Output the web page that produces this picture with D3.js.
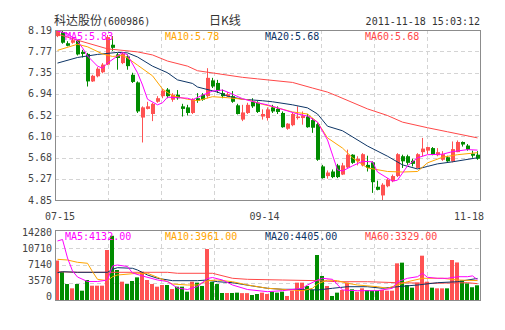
<!DOCTYPE html>
<html>
<head>
<meta charset="utf-8">
<script src="https://cdn.jsdelivr.net/npm/d3@7"></script>
<style>
  body { margin: 0; background: #fff; }
  svg { display: block; }
  text { font-family: "DejaVu Sans Mono", "Liberation Mono", monospace; font-size: 10px; }
</style>
</head>
<body>
<svg id="chart" width="505" height="330"></svg>
<script>
// Trading days, 2011-07-15 .. 2011-11-18
const dates = [
  "07-15","07-18","07-19","07-20","07-21","07-22","07-25","07-26","07-27","07-28","07-29",
  "08-01","08-02","08-03","08-04","08-05","08-08","08-09","08-10","08-11","08-12",
  "08-15","08-16","08-17","08-18","08-19","08-22","08-23","08-24","08-25","08-26",
  "08-29","08-30","08-31",
  "09-01","09-02","09-05","09-06","09-07","09-08","09-09","09-13","09-14","09-15","09-16",
  "09-19","09-20","09-21","09-22","09-23","09-26","09-27","09-28","09-29","09-30",
  "10-10","10-11","10-12","10-13","10-14","10-17","10-18","10-19","10-20","10-21",
  "10-24","10-25","10-26","10-27","10-28","10-31",
  "11-01","11-02","11-03","11-04","11-07","11-08","11-09","11-10","11-11",
  "11-14","11-15","11-16","11-17","11-18"
];

const open  = [8.07,8.15,7.93,7.94,7.98,7.76,7.72,7.18,7.28,7.36,7.51,7.90,7.71,7.54,7.67,7.31,7.16,6.47,6.64,6.54,
               6.78,6.89,7.02,6.82,6.92,6.69,6.67,6.56,6.85,6.92,6.89,7.20,7.15,6.95,6.89,6.89,6.71,6.43,6.56,6.78,
               6.76,6.49,6.46,6.67,6.64,6.56,6.25,6.32,6.46,6.46,6.49,6.42,6.34,5.51,5.32,5.41,5.53,5.35,5.49,5.74,
               5.61,5.53,5.54,5.59,5.11,4.94,5.12,5.22,5.32,5.71,5.71,5.62,5.48,5.79,5.82,5.87,5.73,5.64,5.69,5.61,
               5.79,5.99,5.92,5.76,5.74];
const high  = [8.19,8.17,7.97,8.02,8.00,7.80,7.74,7.31,7.46,7.54,8.09,8.07,7.74,7.76,7.71,7.35,7.18,6.69,6.78,6.76,
               6.89,7.03,7.05,6.95,7.01,6.74,6.72,6.85,6.95,6.95,7.44,7.25,7.21,7.02,6.97,6.99,6.74,6.72,6.76,6.85,
               6.79,6.63,6.67,6.72,6.69,6.59,6.36,6.56,6.69,6.59,6.54,6.46,6.38,5.54,5.43,5.45,5.56,5.58,5.84,5.75,
               5.71,5.77,5.72,5.61,5.23,5.18,5.28,5.35,5.77,5.74,5.74,5.66,5.77,6.07,5.90,5.89,5.87,5.81,5.72,6.00,
               6.02,6.00,5.95,5.82,5.81];
const low   = [8.05,7.92,7.87,7.92,7.69,7.65,7.08,7.17,7.26,7.34,7.50,7.78,7.41,7.52,7.41,7.15,6.56,5.98,6.63,6.40,
               6.76,6.85,6.85,6.78,6.82,6.49,6.51,6.54,6.76,6.80,6.85,7.05,6.95,6.85,6.87,6.76,6.53,6.40,6.54,6.66,
               6.56,6.43,6.41,6.56,6.54,6.27,6.23,6.30,6.43,6.33,6.27,6.17,5.62,5.27,5.27,5.28,5.28,5.34,5.48,5.56,
               5.53,5.51,5.41,4.99,5.04,4.85,5.10,5.20,5.30,5.48,5.54,5.51,5.47,5.71,5.75,5.73,5.71,5.62,5.60,5.59,
               5.79,5.90,5.82,5.68,5.64];
const close = [8.18,7.94,7.88,7.99,7.71,7.72,7.18,7.29,7.43,7.51,8.05,7.84,7.64,7.72,7.48,7.17,6.59,6.67,6.69,6.74,
               6.85,7.00,6.89,6.92,6.85,6.64,6.56,6.83,6.80,6.82,7.25,7.08,6.99,6.89,6.93,6.78,6.54,6.57,6.72,6.69,
               6.58,6.54,6.63,6.59,6.58,6.28,6.35,6.54,6.49,6.51,6.28,6.27,5.64,5.28,5.39,5.30,5.30,5.53,5.74,5.58,
               5.66,5.75,5.48,5.20,5.05,5.15,5.25,5.32,5.75,5.61,5.58,5.56,5.75,5.86,5.89,5.74,5.79,5.75,5.61,5.85,
               5.99,5.94,5.84,5.72,5.66];
const volume = [8050,5700,3260,2380,3260,1900,4080,2920,2920,2920,10200,13100,6120,3740,3260,3880,4620,5780,4080,3260,
                2720,3060,3060,2240,2720,2720,1700,3740,3540,2860,10400,3740,3260,1430,1430,1430,1500,1400,1400,1020,
                1220,1500,1220,1700,1500,1700,820,1900,3540,3540,2860,2040,9180,4900,2860,820,1500,2040,3540,2180,
                1700,2380,2040,1900,1900,2040,1900,1900,7480,7620,3060,2520,3540,9040,3740,2520,2380,2380,2380,8160,
                7660,4000,3400,2600,3000];

// Moving averages as [day index, value]
const ma5 = [[0,8.17],[2,8.12],[4,7.97],[5,7.84],[6,7.68],[8,7.48],[9,7.44],[10,7.54],[12,7.68],[13,7.75],[14,7.70],
  [16,7.35],[17,7.11],[18,6.83],[20,6.72],[21,6.76],[22,6.87],[24,6.86],[26,6.85],[27,6.82],[29,6.91],[31,6.99],
  [33,7.01],[35,6.93],[37,6.84],[40,6.76],[42,6.72],[46,6.60],[48,6.54],[50,6.50],[52,6.38],[54,6.03],[56,5.44],
  [57,5.42],[59,5.52],[61,5.61],[63,5.60],[64,5.40],[66,5.28],[67,5.22],[68,5.24],[70,5.52],[72,5.68],[74,5.74],
  [77,5.75],[79,5.80],[82,5.84],[84,5.83]];
const ma10 = [[0,7.79],[4,7.91],[6,7.86],[9,7.72],[11,7.67],[13,7.69],[14,7.64],[16,7.50],[19,7.29],[21,7.03],
  [23,6.90],[26,6.83],[28,6.80],[31,6.88],[34,6.86],[38,6.82],[41,6.73],[44,6.66],[47,6.58],[50,6.54],[52,6.38],
  [54,6.07],[57,5.87],[59,5.68],[62,5.48],[66,5.41],[69,5.40],[72,5.41],[74,5.58],[77,5.69],[80,5.74],[84,5.78]];
const ma20 = [[0,7.54],[4,7.65],[8,7.71],[12,7.75],[14,7.74],[16,7.66],[19,7.48],[22,7.35],[24,7.21],[27,7.14],
  [28,7.07],[32,6.97],[34,6.89],[37,6.83],[41,6.80],[43,6.78],[47,6.72],[50,6.66],[52,6.54],[54,6.30],[57,6.21],
  [59,6.09],[62,5.91],[66,5.71],[69,5.54],[72,5.46],[74,5.51],[76,5.56],[79,5.60],[84,5.68]];
const ma60 = [[0,8.11],[4,7.99],[10,7.82],[16,7.76],[19,7.70],[22,7.58],[26,7.48],[28,7.39],[37,7.26],[40,7.23],
  [47,7.16],[51,7.05],[54,6.97],[56,6.89],[62,6.64],[66,6.51],[69,6.38],[74,6.27],[78,6.19],[84,6.07]];

const vma5 = [[0,12040],[1,12340],[2,8570],[3,5920],[4,4690],[6,3770],[8,3770],[10,4080],[11,6940],[12,7140],
  [14,6830],[15,5510],[17,4900],[20,4080],[22,3770],[24,2450],[26,2140],[28,2750],[30,4390],[31,4590],[33,4080],
  [35,3060],[38,2140],[42,1700],[45,1900],[49,2390],[50,3060],[52,4080],[53,4430],[55,4220],[57,2040],[60,1900],
  [64,1900],[67,2390],[68,3730],[70,4430],[72,4750],[73,5450],[74,4630],[76,4430],[78,4430],[80,4750],[82,4750],
  [83,4920],[84,4132]];
const vma10 = [[0,8300],[2,8160],[4,7690],[6,7490],[7,5770],[8,4220],[10,3940],[11,4750],[12,5100],[16,5450],
  [18,5450],[20,4630],[22,3730],[23,3260],[26,3060],[28,3060],[30,3940],[32,4080],[35,3730],[38,3060],[42,2390],
  [45,2180],[49,1900],[51,2390],[52,3260],[54,4080],[56,3940],[58,3410],[60,3060],[64,2710],[66,2390],[68,3060],
  [70,3730],[73,4430],[77,4430],[80,4080],[84,3961]];
const vma20 = [[0,5570],[1,5770],[4,5650],[10,5650],[11,6260],[12,6590],[15,6470],[16,6120],[18,5100],[20,4430],
  [23,3940],[28,3940],[30,4080],[32,3730],[35,3530],[39,2860],[42,2390],[45,2180],[49,2180],[52,2040],[55,2390],
  [58,2710],[62,2710],[65,2390],[68,2710],[72,3060],[76,3530],[80,3730],[84,4405]];
const vma60 = [[0,5770],[4,5650],[15,5650],[22,5650],[24,5450],[31,5450],[35,4430],[38,4220],[45,4080],[52,3940],
  [56,3730],[62,3730],[68,3530],[75,3410],[82,3530],[84,3329]];

const priceTicks  = [8.19, 7.77, 7.35, 6.94, 6.52, 6.10, 5.68, 5.27, 4.85];
const volumeTicks = [14280, 10710, 7140, 3570, 0];
const dateLabels  = ["07-15", "09-14", "11-18"];

const priceLegend  = ["MA5:5.83", "MA10:5.78", "MA20:5.68", "MA60:5.68"];
const volumeLegend = ["MA5:4132.00", "MA10:3961.00", "MA20:4405.00", "MA60:3329.00"];
const maColors = ["#ff00ff", "#ffa500", "#0d3566", "#ff4848"];
const UP = "#ff5252", DOWN = "#008c00";

const svg = d3.select("#chart");
const L = 55, R = 480, PT = 30, PB = 200, VT = 230, VB = 300;

const x = d3.scaleBand().domain(dates).range([L, R]);
const cx = i => x(dates[i]) + x.bandwidth() / 2;
const y = d3.scaleLinear().domain([4.85, 8.19]).range([PB, PT]);
const yv = d3.scaleLinear().domain([0, 14280]).range([VB, VT]);
const gx = d3.scaleLinear().domain([0, 8]).range([L, R]);

const crisp = v => Math.round(v) + 0.5;

// grid
const grid = svg.append("g").attr("stroke", "#d4d4d4").attr("stroke-dasharray", "4,3").attr("fill", "none");
priceTicks.slice(1, -1).forEach(t => grid.append("line")
  .attr("x1", L).attr("x2", R).attr("y1", crisp(y(t))).attr("y2", crisp(y(t))));
volumeTicks.slice(1, -1).forEach(t => grid.append("line")
  .attr("x1", L).attr("x2", R).attr("y1", crisp(yv(t))).attr("y2", crisp(yv(t))));
d3.range(1, 8).forEach(k => {
  grid.append("line").attr("x1", crisp(gx(k))).attr("x2", crisp(gx(k))).attr("y1", PT).attr("y2", PB);
  grid.append("line").attr("x1", crisp(gx(k))).attr("x2", crisp(gx(k))).attr("y1", VT).attr("y2", VB);
});

// candles
const idx = d3.range(dates.length);
const candles = svg.append("g");
idx.forEach(i => {
  const up = close[i] >= open[i];
  const col = up ? UP : DOWN;
  const x0 = x(dates[i]);
  candles.append("rect").attr("x", x0 + 2).attr("width", 1)
    .attr("y", y(high[i])).attr("height", Math.max(1, y(low[i]) - y(high[i]))).attr("fill", col);
  const top = y(Math.max(open[i], close[i])), bot = y(Math.min(open[i], close[i]));
  candles.append("rect").attr("x", x0 + 1).attr("width", 4)
    .attr("y", top).attr("height", Math.max(1, bot - top)).attr("fill", col);
});

// volume bars
const bars = svg.append("g");
idx.forEach(i => {
  const up = close[i] >= open[i];
  bars.append("rect").attr("x", x(dates[i])).attr("width", 4)
    .attr("y", yv(volume[i])).attr("height", VB - yv(volume[i]))
    .attr("fill", up ? UP : DOWN);
});

// moving average lines
const priceLine = d3.line().x(d => cx(d[0])).y(d => y(d[1]));
const volLine = d3.line().x(d => cx(d[0])).y(d => yv(d[1]));
[ma60, ma20, ma10, ma5].forEach((s, k) => svg.append("path").datum(s)
  .attr("d", priceLine).attr("fill", "none").attr("stroke", maColors[3 - k]).attr("stroke-width", 1));
[vma60, vma20, vma10, vma5].forEach((s, k) => svg.append("path").datum(s)
  .attr("d", volLine).attr("fill", "none").attr("stroke", maColors[3 - k]).attr("stroke-width", 1));

// frames
svg.append("rect").attr("x", L + 0.5).attr("y", PT + 0.5).attr("width", R - L).attr("height", PB - PT)
  .attr("fill", "none").attr("stroke", "#8c8c8c");
svg.append("rect").attr("x", L + 0.5).attr("y", VT + 0.5).attr("width", R - L).attr("height", VB - VT)
  .attr("fill", "none").attr("stroke", "#8c8c8c");

// axes labels
const ya = svg.append("g").attr("transform", `translate(${L},0)`)
  .call(d3.axisLeft(y).tickValues(priceTicks).tickFormat(d3.format(".2f")).tickSize(0).tickPadding(3));
ya.select(".domain").remove();
ya.selectAll("text").attr("fill", "#444").style("font-size", "10px");

const va = svg.append("g").attr("transform", `translate(${L},0)`)
  .call(d3.axisLeft(yv).tickValues(volumeTicks).tickFormat(d3.format("d")).tickSize(0).tickPadding(3));
va.select(".domain").remove();
va.selectAll(".tick").attr("transform", d => `translate(0,${265 + (yv(d) - 265) * 64 / 70})`);
va.selectAll("text").attr("fill", "#444").style("font-size", "10px");

// date labels
const dateIdx = dateLabels.map(d => dates.indexOf(d));
svg.append("g").selectAll("text").data(dateLabels).join("text")
  .attr("x", (d, k) => k === 0 ? 45 : k === 2 ? 484 : cx(dateIdx[k]) - 3)
  .attr("y", 220)
  .attr("text-anchor", (d, k) => k === 0 ? "start" : k === 2 ? "end" : "middle")
  .attr("fill", "#444").text(d => d);

// legends
svg.append("g").selectAll("text").data(priceLegend).join("text")
  .attr("x", (d, k) => 65 + 100 * k).attr("y", 40).attr("fill", (d, k) => maColors[k]).text(d => d);
svg.append("g").selectAll("text").data(volumeLegend).join("text")
  .attr("x", (d, k) => 65 + 100 * k).attr("y", 240).attr("fill", (d, k) => maColors[k]).text(d => d);

// header
const title = svg.append("text").attr("x", 54).attr("y", 25).attr("fill", "#333");
title.append("tspan").style("font-family", "'Noto Sans CJK SC'").style("font-size", "12px").text("科达股份");
title.append("tspan").text("(600986)");
svg.append("text").attr("x", 225).attr("y", 25).attr("text-anchor", "middle").attr("fill", "#333")
  .style("font-family", "'Noto Sans CJK SC'").style("font-size", "12px").text("日K线");
svg.append("text").attr("x", 480).attr("y", 25).attr("text-anchor", "end").attr("fill", "#333")
  .text("2011-11-18 15:03:12");
</script>
</body>
</html>
